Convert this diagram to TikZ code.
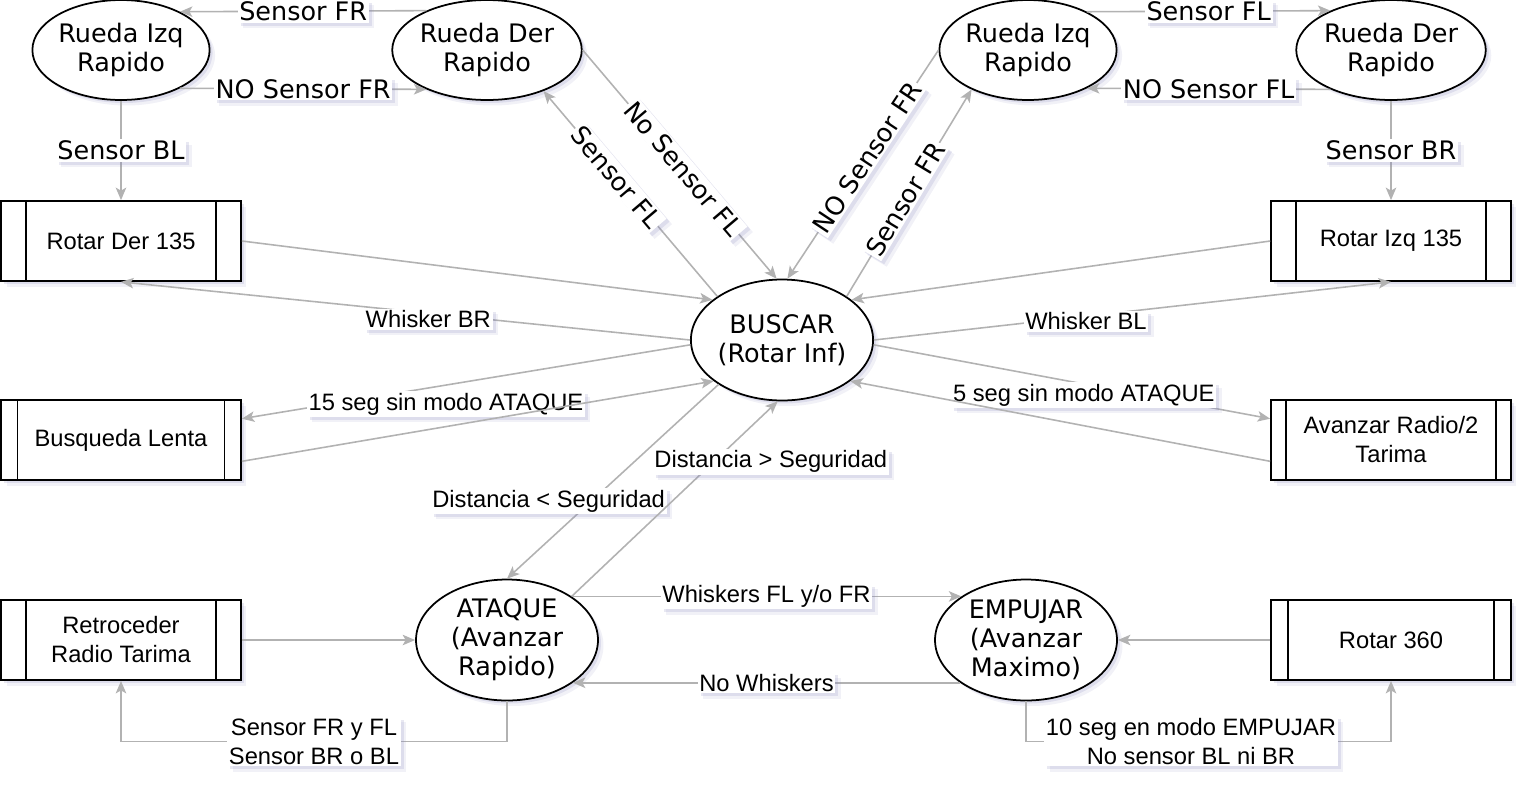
\documentclass[tikz,border=0pt]{standalone}
\usepackage{fontspec}
\setmainfont{Liberation Sans}
\newfontfamily\verd{DejaVu Sans}
\usetikzlibrary{shapes.geometric,arrows.meta,shadows}
\definecolor{edgegray}{RGB}{178,178,178}
\definecolor{shadowblue}{RGB}{140,140,190}
\newcommand{\fvd}{\verd\fontsize{14.5}{16.5}\selectfont}
\newcommand{\fls}{\fontsize{13.5}{16.5}\selectfont}

\begin{document}
\begin{tikzpicture}[x=0.02cm,y=-0.02cm,>={Stealth[length=2.5mm,width=2.1mm,inset=0.6mm]}]
	\tikzstyle{sombra}=[drop shadow={shadow xshift=0.11cm,shadow yshift=-0.11cm,opacity=0.12,fill=shadowblue},
		drop shadow={shadow xshift=0.06cm,shadow yshift=-0.06cm,opacity=0.2,fill=shadowblue}]
	\tikzstyle{rueda}=[ellipse,draw=black,line width=1pt,fill=white,sombra,minimum width=3cm,minimum height=2cm,inner sep=0pt,align=center,font=\fvd]
	\tikzstyle{estado}=[rueda,minimum width=3.64cm,minimum height=2.42cm]
	\tikzset{proceso/.style={rectangle,draw=black,line width=1pt,fill=white,sombra,minimum width=4.8cm,minimum height=1.6cm,inner sep=0pt,align=center,font=\fls,
		path picture={\draw[line width=1pt] ([xshift=#1]path picture bounding box.north west) -- ([xshift=#1]path picture bounding box.south west);
			\draw[line width=1pt] ([xshift=-#1]path picture bounding box.north east) -- ([xshift=-#1]path picture bounding box.south east);}},
		proceso/.default=0.5cm}
	\tikzstyle{edge}=[draw=edgegray,line width=0.9pt]
	\tikzstyle{lbl}=[fill=white,sombra,inner sep=1pt,text=black,font=\fls,align=center]
	\tikzstyle{lblv}=[lbl,font=\fvd]

	\useasboundingbox (0,0) rectangle (1534,792);

	\node [rueda] (izqL) at (121,50) {Rueda Izq\\Rapido};
	\node [rueda] (derL) at (487,50) {Rueda Der\\Rapido};
	\node [rueda] (izqR) at (1028,50) {Rueda Izq\\Rapido};
	\node [rueda] (derR) at (1391,50) {Rueda Der\\Rapido};
	\node [proceso] (rotDer) at (121,241) {Rotar Der 135};
	\node [proceso] (rotIzq) at (1391,241) {Rotar Izq 135};
	\node [estado] (buscar) at (782,340) {BUSCAR\\(Rotar Inf)};
	\node [proceso=0.33cm] (lenta) at (121,440) {Busqueda Lenta};
	\node [proceso=0.3cm] (avanzar) at (1391,440) {Avanzar Radio/2\\Tarima};
	\node [estado] (ataque) at (507,640) {ATAQUE\\(Avanzar\\Rapido)};
	\node [estado] (empujar) at (1026,640) {EMPUJAR\\(Avanzar\\Maximo)};
	\node [proceso] (retro) at (121,640) {Retroceder\\Radio Tarima};
	\node [proceso=0.34cm] (rot360) at (1391,640) {Rotar 360};

	% ruedas
	\path[edge,->] (derL.147) -- node[lblv] {Sensor FR} (izqL.33);
	\path[edge,->] (izqL.-33) -- node[lblv] {NO Sensor FR} (derL.213);
	\path[edge,->] (izqL.south) -- node[lblv] {Sensor BL} (rotDer.north);
	\path[edge,->] (izqR.33) -- node[lblv] {Sensor FL} (derR.147);
	\path[edge,->] (derR.213) -- node[lblv] {NO Sensor FL} (izqR.-33);
	\path[edge,->] (derR.south) -- node[lblv] {Sensor BR} (rotIzq.north);
	\path[edge,->] (buscar.146) -- node[lblv,sloped,pos=0.58] {Sensor FL} (derL.-36);
	\path[edge,->] (derL.east) -- node[lblv,sloped,pos=0.52] {No Sensor FL} (buscar.95);
	\path[edge,->] (izqR.west) -- node[lblv,sloped,pos=0.47] {NO Sensor FR} (buscar.85);
	\path[edge,->] (buscar.34) -- node[lblv,sloped,pos=0.47] {Sensor FR} (izqR.215);

	% buscar
	\path[edge,->] (rotDer.east) -- (buscar.150);
	\path[edge,->] (buscar.180) -- node[lbl,pos=0.46,yshift=-0.12cm] {Whisker BR} (rotDer.south);
	\path[edge,->] (buscar.183) -- node[lbl,pos=0.545,yshift=-0.38cm] {15 seg sin modo ATAQUE} (lenta.10);
	\path[edge,->] (lenta.350) -- (buscar.211);
	\path[edge,->] (rotIzq.west) -- (buscar.30);
	\path[edge,->] (buscar.east) -- node[lbl,pos=0.41,yshift=-0.1cm] {Whisker BL} (rotIzq.south);
	\path[edge,->] (buscar.-3) -- node[lbl,pos=0.53,yshift=-0.22cm] {5 seg sin modo ATAQUE} (avanzar.170);
	\path[edge,->] (avanzar.190) -- (buscar.-31);
	\path[edge,->] (buscar.215) -- node[lbl,pos=0.6,xshift=-0.86cm] {Distancia < Seguridad} (ataque.north);
	\path[edge,->] (ataque.34) -- node[lbl,pos=0.69,xshift=1.14cm] {Distancia > Seguridad} (buscar.266);

	% ataque / empujar
	\path[edge,->] (ataque.34) -- node[lbl] {Whiskers FL y/o FR} (empujar.146);
	\path[edge,->] (empujar.213) -- node[lbl] {No Whiskers} (ataque.-33);
	\path[edge,->] (retro.east) -- (ataque.west);
	\path[edge,->] (ataque.south) -- ++(0,40) -| node[lbl,pos=0.25] {Sensor FR y FL\\Sensor BR o BL} (retro.south);
	\path[edge,->] (rot360.west) -- (empujar.east);
	\path[edge,->] (empujar.south) -- ++(0,40) -| node[lbl,pos=0.226] {10 seg en modo EMPUJAR\\No sensor BL ni BR} (rot360.south);

\end{tikzpicture}
\end{document}
